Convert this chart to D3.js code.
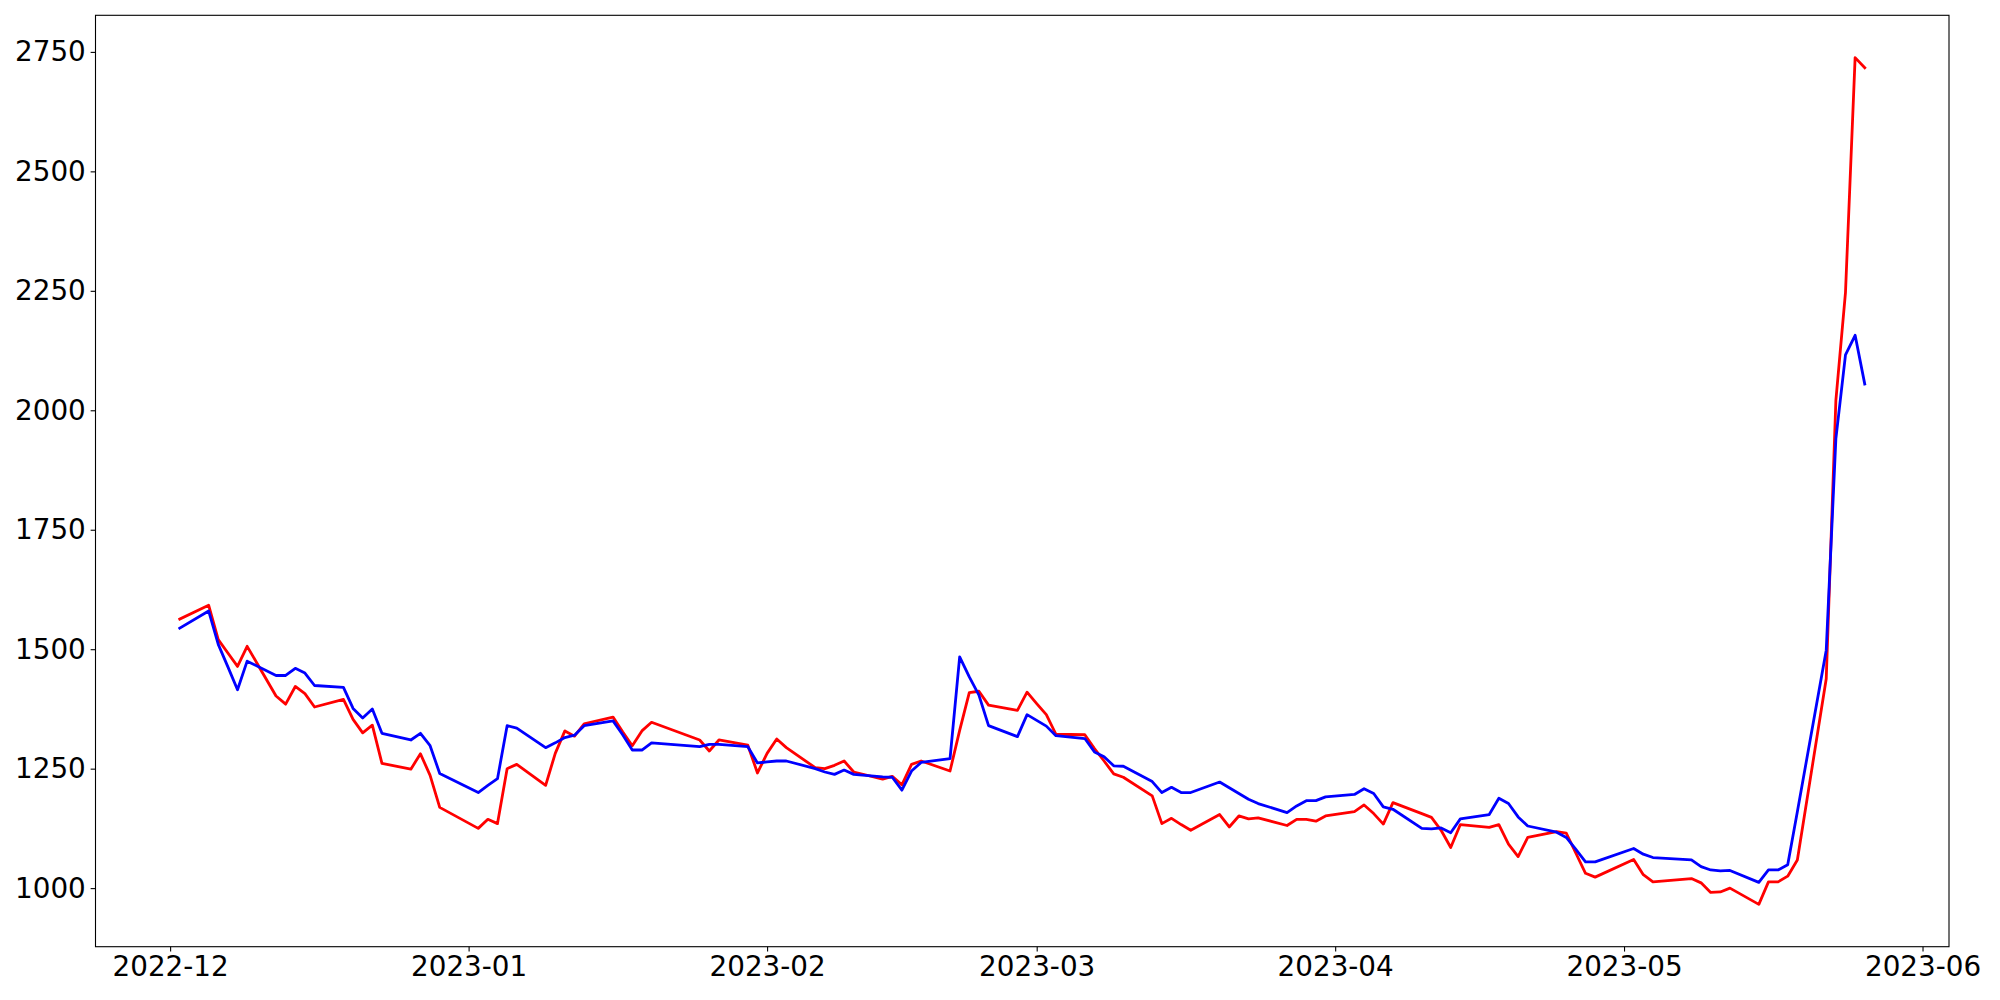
<!DOCTYPE html>
<html>
<head>
<meta charset="utf-8">
<script src="https://cdn.jsdelivr.net/npm/d3@7"></script>
<style>
  html, body { margin: 0; padding: 0; background: #ffffff; }
  svg { display: block; }
</style>
</head>
<body>
<svg id="chart" width="2000" height="1000"></svg>
<script>
const dates = [
"2022-12-02","2022-12-05","2022-12-06","2022-12-07","2022-12-08","2022-12-09",
"2022-12-12","2022-12-13","2022-12-14","2022-12-15","2022-12-16",
"2022-12-19","2022-12-20","2022-12-21","2022-12-22","2022-12-23",
"2022-12-26","2022-12-27","2022-12-28","2022-12-29",
"2023-01-02","2023-01-03","2023-01-04","2023-01-05","2023-01-06",
"2023-01-09","2023-01-10","2023-01-11","2023-01-12","2023-01-13",
"2023-01-16","2023-01-17","2023-01-18","2023-01-19","2023-01-20",
"2023-01-25","2023-01-26","2023-01-27",
"2023-01-30","2023-01-31","2023-02-01","2023-02-02","2023-02-03",
"2023-02-06","2023-02-07","2023-02-08","2023-02-09","2023-02-10",
"2023-02-13","2023-02-14","2023-02-15","2023-02-16","2023-02-17",
"2023-02-20","2023-02-21","2023-02-22","2023-02-23","2023-02-24",
"2023-02-27","2023-02-28","2023-03-01","2023-03-02","2023-03-03",
"2023-03-06","2023-03-07","2023-03-08","2023-03-09","2023-03-10",
"2023-03-13","2023-03-14","2023-03-15","2023-03-16","2023-03-17",
"2023-03-20","2023-03-21","2023-03-22","2023-03-23","2023-03-24",
"2023-03-27","2023-03-28","2023-03-29","2023-03-30","2023-03-31",
"2023-04-03","2023-04-04","2023-04-05","2023-04-06","2023-04-07",
"2023-04-10","2023-04-11","2023-04-12","2023-04-13","2023-04-14",
"2023-04-17","2023-04-18","2023-04-19","2023-04-20","2023-04-21",
"2023-04-24","2023-04-25","2023-04-26","2023-04-27","2023-04-28",
"2023-05-02","2023-05-03","2023-05-04",
"2023-05-08","2023-05-09","2023-05-10","2023-05-11","2023-05-12",
"2023-05-15","2023-05-16","2023-05-17","2023-05-18","2023-05-19",
"2023-05-22","2023-05-23","2023-05-24","2023-05-25","2023-05-26"
];

const redValues = [
1563, 1592, 1520, 1492, 1464, 1506,
1402, 1385, 1422, 1407, 1379,
1395, 1353, 1325, 1341, 1261,
1249, 1281, 1236, 1169,
1125, 1144, 1135, 1250, 1259,
1215, 1282, 1329, 1318, 1344,
1358, 1327, 1298, 1329, 1347,
1310, 1287, 1310,
1299, 1241, 1282, 1312, 1294,
1252, 1250, 1257, 1266, 1243,
1228, 1234, 1216, 1259, 1266,
1245, 1330, 1409, 1412, 1383,
1372, 1410, 1386, 1363, 1322,
1321, 1292, 1266, 1239, 1232,
1193, 1135, 1146, 1133, 1121,
1154, 1128, 1151, 1145, 1147,
1131, 1144, 1144, 1140, 1151,
1160, 1174, 1156, 1134, 1179,
1156, 1148, 1121, 1085, 1133,
1127, 1133, 1092, 1066, 1106,
1118, 1115, 1073, 1031, 1023,
1060, 1028, 1013,
1020, 1011, 991, 992, 1000,
966, 1013, 1013, 1025, 1059,
1438, 2020, 2247, 2738, 2717
];

const blueValues = [
1544, 1580, 1510, 1463, 1415, 1475,
1445, 1445, 1460, 1450, 1424,
1420, 1376, 1356, 1375, 1324,
1310, 1324, 1298, 1240,
1200, 1215, 1229, 1340, 1335,
1294, 1304, 1315, 1320, 1340,
1350, 1321, 1289, 1289, 1304,
1296, 1301, 1301,
1296, 1262, 1264, 1266, 1266,
1250, 1243, 1238, 1247, 1238,
1233, 1232, 1205, 1245, 1263,
1271, 1484, 1442, 1404, 1340,
1317, 1363, 1351, 1339, 1319,
1313, 1285, 1275, 1256, 1255,
1223, 1200, 1211, 1200, 1200,
1222, 1210, 1198, 1186, 1177,
1158, 1172, 1183, 1183, 1191,
1196, 1208, 1198, 1170, 1165,
1125, 1124, 1126, 1116, 1145,
1154, 1188, 1177, 1149, 1130,
1117, 1106, 1081, 1055, 1055,
1083, 1071, 1064,
1059, 1045, 1038, 1036, 1037,
1012, 1038, 1038, 1049, 1160,
1498, 1940, 2116, 2157, 2055
];

const yTickValues = [1000, 1250, 1500, 1750, 2000, 2250, 2500, 2750];
const xTickFormat = "%Y-%m";

// ---- layout ----
const W = 2000, H = 1000;
const margin = { left: 95.5, top: 15.3, right: 2000 - 1949, bottom: 1000 - 946.7 };
const iw = W - margin.left - margin.right;
const ih = H - margin.top - margin.bottom;
const fontSize = 27.8;
const tickLen = 4.86;
const tickPad = 4.86;

const parse = d3.timeParse("%Y-%m-%d");
const dts = dates.map(parse);

// matplotlib-like 5% margins
const xExt = d3.extent(dts);
const xSpan = xExt[1] - xExt[0];
const xDomain = [new Date(+xExt[0] - 0.05 * xSpan), new Date(+xExt[1] + 0.05 * xSpan)];
const allV = redValues.concat(blueValues);
const yExt = d3.extent(allV);
const ySpan = yExt[1] - yExt[0];
const yDomain = [yExt[0] - 0.05 * ySpan, yExt[1] + 0.05 * ySpan];

const x = d3.scaleTime().domain(xDomain).range([0, iw]);
const y = d3.scaleLinear().domain(yDomain).range([ih, 0]);

const svg = d3.select("#chart");
svg.append("rect").attr("width", W).attr("height", H).attr("fill", "#ffffff");
const g = svg.append("g").attr("transform", `translate(${margin.left},${margin.top})`);

// clip
g.append("clipPath").attr("id", "clip").append("rect").attr("width", iw).attr("height", ih);

const line = (vals) => d3.line()
  .x((d, i) => x(dts[i]))
  .y(d => y(d))(vals);

const plot = g.append("g").attr("clip-path", "url(#clip)");
plot.append("path")
  .attr("d", line(redValues))
  .attr("fill", "none")
  .attr("stroke", "#ff0000")
  .attr("stroke-width", 2.8)
  .attr("stroke-linejoin", "round")
  .attr("stroke-linecap", "square");
plot.append("path")
  .attr("d", line(blueValues))
  .attr("fill", "none")
  .attr("stroke", "#0000ff")
  .attr("stroke-width", 2.8)
  .attr("stroke-linejoin", "round")
  .attr("stroke-linecap", "square");

// axes
const xAxis = d3.axisBottom(x)
  .ticks(d3.timeMonth.every(1))
  .tickFormat(d3.timeFormat(xTickFormat))
  .tickSize(tickLen)
  .tickSizeOuter(0)
  .tickPadding(tickPad);
const yAxis = d3.axisLeft(y)
  .tickValues(yTickValues)
  .tickFormat(d3.format("d"))
  .tickSize(tickLen)
  .tickSizeOuter(0)
  .tickPadding(tickPad);

const gx = g.append("g").attr("transform", `translate(0,${ih})`).call(xAxis);
const gy = g.append("g").call(yAxis);
[gx, gy].forEach(a => {
  a.select(".domain").remove();
  a.selectAll(".tick line").attr("stroke", "#000").attr("stroke-width", 1.1);
  a.selectAll(".tick text")
    .attr("fill", "#000")
    .style("font-family", "'DejaVu Sans', sans-serif")
    .style("font-size", fontSize + "px");
});

// frame
g.append("rect")
  .attr("x", 0).attr("y", 0)
  .attr("width", iw).attr("height", ih)
  .attr("fill", "none")
  .attr("stroke", "#000")
  .attr("stroke-width", 1.1);
</script>
</body>
</html>
